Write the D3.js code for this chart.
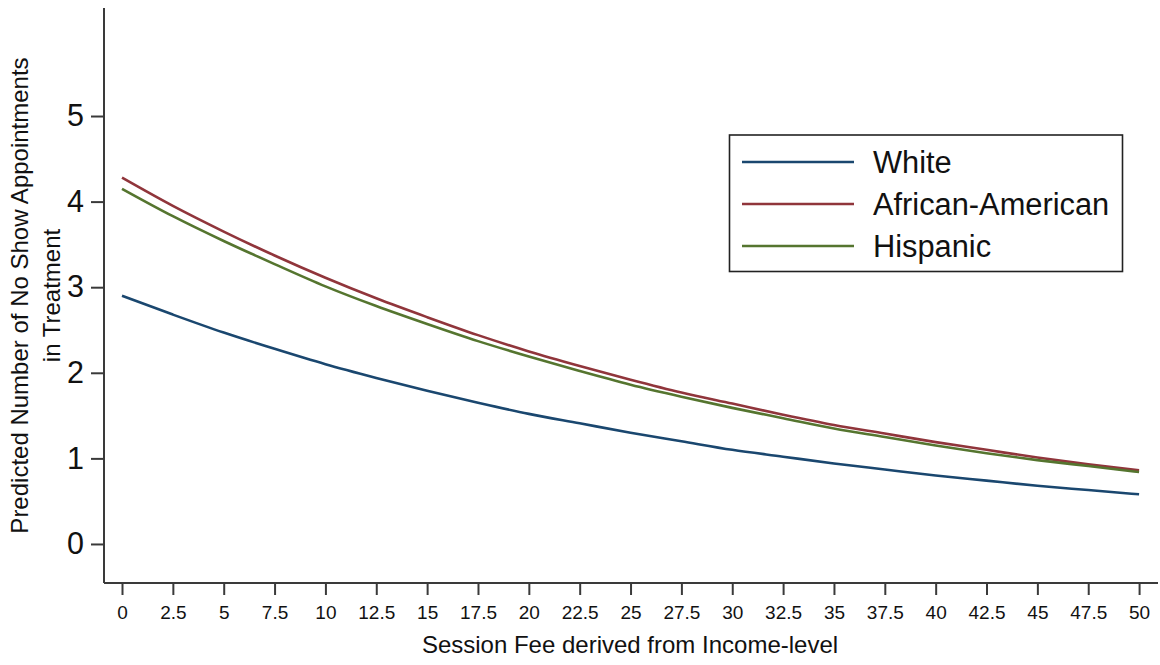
<!DOCTYPE html>
<html>
<head>
<meta charset="utf-8">
<script src="https://cdn.jsdelivr.net/npm/d3@7"></script>
<style>
  html, body { margin: 0; padding: 0; background: #fff; }
  svg { display: block; font-family: "Liberation Sans", Arial, sans-serif; }
</style>
</head>
<body>
<svg id="chart" width="1160" height="665"></svg>
<script>
// Session fee grid (x) and predicted no-show counts for each group
const fees = [0, 2.5, 5, 7.5, 10, 12.5, 15, 17.5, 20, 22.5, 25, 27.5, 30, 32.5, 35, 37.5, 40, 42.5, 45, 47.5, 50];
const white = [2.90, 2.68, 2.47, 2.28, 2.10, 1.94, 1.79, 1.65, 1.52, 1.41, 1.30, 1.20, 1.10, 1.02, 0.94, 0.87, 0.80, 0.74, 0.68, 0.63, 0.58];
const africanAmerican = [4.28, 3.95, 3.65, 3.37, 3.11, 2.87, 2.65, 2.44, 2.25, 2.08, 1.92, 1.77, 1.64, 1.51, 1.39, 1.29, 1.19, 1.10, 1.01, 0.93, 0.86];
const hispanic = [4.15, 3.83, 3.54, 3.27, 3.01, 2.78, 2.57, 2.37, 2.19, 2.02, 1.86, 1.72, 1.59, 1.47, 1.35, 1.25, 1.15, 1.06, 0.98, 0.91, 0.84];
const seriesNames = ["White", "African-American", "Hispanic"];
const xTicks = fees;
const yTicks = [0, 1, 2, 3, 4, 5];

const seriesValues = [white, africanAmerican, hispanic];
const colors = ["#1a476f", "#90353b", "#55752f"];

const svg = d3.select("#chart");
const plot = { left: 104, right: 1158, top: 8, bottom: 583 };

const x = d3.scaleLinear().domain([-0.885, 50.93]).range([plot.left, plot.right]);
const y = d3.scaleLinear().domain([-0.456, 6.262]).range([plot.bottom, plot.top]);

const axisColor = "#3a3a3a";
const textColor = "#111";

// Y axis
const yAxis = svg.append("g")
  .attr("transform", `translate(${plot.left},0)`)
  .call(d3.axisLeft(y).tickValues(yTicks).tickSize(13).tickPadding(7).tickFormat(d3.format("d")));
yAxis.select(".domain").attr("stroke", axisColor).attr("stroke-width", 2)
  .attr("d", `M0,${plot.top}V${plot.bottom}`);
yAxis.selectAll(".tick line").attr("stroke", axisColor).attr("stroke-width", 2);
yAxis.selectAll(".tick text").attr("font-size", 30.5).attr("fill", textColor)
  .attr("font-family", "Liberation Sans, Arial, sans-serif");

// X axis
const xAxis = svg.append("g")
  .attr("transform", `translate(0,${plot.bottom})`)
  .call(d3.axisBottom(x).tickValues(xTicks).tickSize(12).tickPadding(11).tickFormat(d => String(d)));
xAxis.select(".domain").attr("stroke", axisColor).attr("stroke-width", 2)
  .attr("d", `M${plot.left},0H${plot.right}`);
xAxis.selectAll(".tick line").attr("stroke", axisColor).attr("stroke-width", 2);
xAxis.selectAll(".tick text").attr("font-size", 19).attr("fill", textColor)
  .attr("font-family", "Liberation Sans, Arial, sans-serif");

// Axis titles
svg.append("text")
  .attr("x", (plot.left + plot.right) / 2 - 1)
  .attr("y", 653)
  .attr("text-anchor", "middle")
  .attr("font-size", 24)
  .attr("fill", textColor)
  .text("Session Fee derived from Income-level");

const yTitle = svg.append("text")
  .attr("transform", `translate(0,${(plot.top + plot.bottom) / 2}) rotate(-90)`)
  .attr("text-anchor", "middle")
  .attr("font-size", 24)
  .attr("fill", textColor);
yTitle.append("tspan").attr("x", 0).attr("y", 28).text("Predicted Number of No Show Appointments");
yTitle.append("tspan").attr("x", 0).attr("y", 60).text("in Treatment");

// Curves
const line = d3.line()
  .x((d, i) => x(fees[i]))
  .y(d => y(d))
  .curve(d3.curveMonotoneX);

seriesValues.forEach((vals, k) => {
  svg.append("path")
    .datum(vals)
    .attr("fill", "none")
    .attr("stroke", colors[k])
    .attr("stroke-width", 2.6)
    .attr("d", line);
});

// Legend
const legend = svg.append("g");
legend.append("rect")
  .attr("x", 729.5).attr("y", 135)
  .attr("width", 393).attr("height", 136.5)
  .attr("fill", "#fff").attr("stroke", "#222").attr("stroke-width", 1.6);
seriesNames.forEach((name, k) => {
  const cy = 162 + k * 42;
  legend.append("line")
    .attr("x1", 742).attr("x2", 854)
    .attr("y1", cy).attr("y2", cy)
    .attr("stroke", colors[k]).attr("stroke-width", 2.6);
  legend.append("text")
    .attr("x", 873).attr("y", cy)
    .attr("dy", "0.35em")
    .attr("font-size", 30.8)
    .attr("fill", textColor)
    .text(name);
});
</script>
</body>
</html>
